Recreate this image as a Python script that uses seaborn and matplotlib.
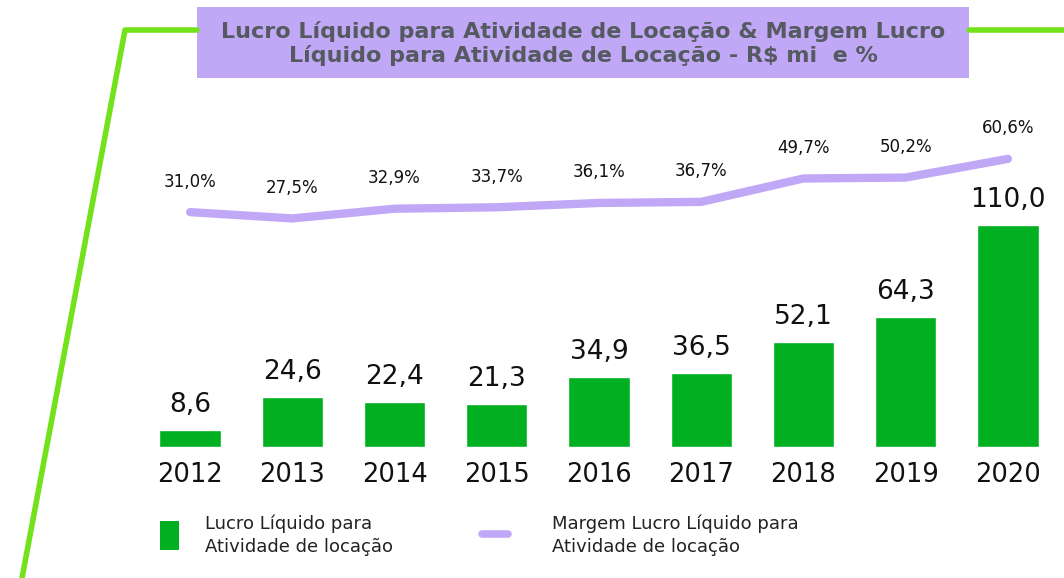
import matplotlib
matplotlib.use("Agg")
import matplotlib.pyplot as plt
import matplotlib.lines as mlines
import matplotlib.patches as mpatches
import seaborn as sns
import pandas as pd

years = ["2012", "2013", "2014", "2015", "2016", "2017", "2018", "2019", "2020"]
lucro = [8.6, 24.6, 22.4, 21.3, 34.9, 36.5, 52.1, 64.3, 110.0]
margem = [31.0, 27.5, 32.9, 33.7, 36.1, 36.7, 49.7, 50.2, 60.6]

title = "Lucro Líquido para Atividade de Locação & Margem Lucro\nLíquido para Atividade de Locação - R$ mi  e %"
legend_bar = "Lucro Líquido para\nAtividade de locação"
legend_line = "Margem Lucro Líquido para\nAtividade de locação"

BAR = "#00b020"
LAV = "#c1a8f7"
DECO = "#74e21b"
TXT = "#111111"

sns.set_theme(style="white")
plt.rcParams["font.family"] = ["DejaVu Sans"]

df = pd.DataFrame({"ano": years, "lucro": lucro, "margem": margem, "pos": range(len(years))})

W, H = 1064, 578
fig = plt.figure(figsize=(W / 100, H / 100), dpi=100)

def ax_rect(l, t, r, b):
    return [l / W, 1 - b / H, (r - l) / W, (b - t) / H]

ax = fig.add_axes(ax_rect(139, 100, 1059, 447))
sns.barplot(data=df, x="ano", y="lucro", color=BAR, width=0.6, saturation=1, ax=ax)
ax.set_xlim(-0.5, 8.5)
ax.set_ylim(0, 172)
for i, v in enumerate(lucro):
    ax.annotate(f"{v:.1f}".replace(".", ","), (i, v), xytext=(0, 18),
                textcoords="offset points", ha="center", va="center",
                fontsize=19, color=TXT)
ax.set_xlabel("")
ax.set_ylabel("")
ax.set_yticks([])
ax.tick_params(axis="x", length=0, labelsize=18.5, pad=11, colors=TXT)
for s in ax.spines.values():
    s.set_visible(False)
ax.patch.set_alpha(0)

ax2 = ax.twinx()
sns.lineplot(data=df, x="pos", y="margem", color=LAV, linewidth=6, ax=ax2,
             solid_capstyle="round", solid_joinstyle="round")
ax2.set_ylim(-99.5, 93.3)
ax2.set_xlim(-0.5, 8.5)
for i, v in enumerate(margem):
    ax2.annotate(f"{v:.1f}%".replace(".", ","), (i, v), xytext=(0, 22),
                 textcoords="offset points", ha="center", va="center",
                 fontsize=12, color=TXT)
ax2.set_yticks([])
ax2.set_ylabel("")
ax2.set_xlabel("")
for s in ax2.spines.values():
    s.set_visible(False)

# decorative green frame line
deco = mlines.Line2D([22 / W, 125 / W, 197 / W], [1 - 578 / H, 1 - 30 / H, 1 - 30 / H],
                     color=DECO, linewidth=4, transform=fig.transFigure)
deco2 = mlines.Line2D([969 / W, 1064 / W], [1 - 30 / H, 1 - 30 / H],
                      color=DECO, linewidth=4, transform=fig.transFigure)
fig.add_artist(deco)
fig.add_artist(deco2)

# title box
box = mpatches.Rectangle((197 / W, 1 - 78 / H), (969 - 197) / W, (78 - 7) / H,
                         transform=fig.transFigure, facecolor=LAV, edgecolor="none")
fig.add_artist(box)
fig.text(583 / W, 1 - 43.5 / H, title, ha="center", va="center", fontsize=16,
         fontweight="bold", color="#545a60", linespacing=1.2)

# legend
fig.add_artist(mpatches.Rectangle((160 / W, 1 - 550 / H), 19 / W, 29 / H,
                                  transform=fig.transFigure, facecolor=BAR, edgecolor="none"))
fig.text(205 / W, 1 - 535 / H, legend_bar, ha="left", va="center", fontsize=13,
         color="#222222", linespacing=1.35)
fig.add_artist(mlines.Line2D([482 / W, 508 / W], [1 - 534 / H, 1 - 534 / H], color=LAV,
                             linewidth=5.5, solid_capstyle="round", transform=fig.transFigure))
fig.text(552 / W, 1 - 535 / H, legend_line, ha="left", va="center", fontsize=13,
         color="#222222", linespacing=1.35)

fig.savefig("out.png", dpi=100)
